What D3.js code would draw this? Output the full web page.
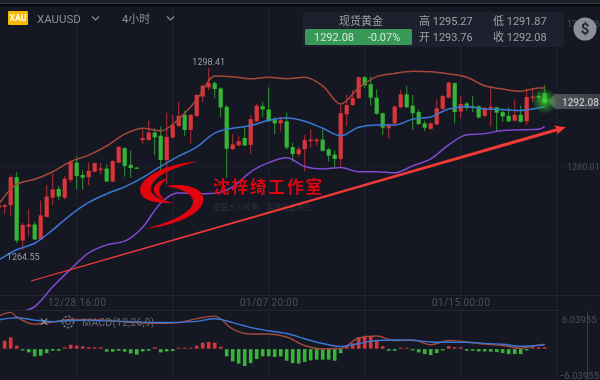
<!DOCTYPE html>
<html>
<head>
<meta charset="utf-8">
<script src="https://cdn.jsdelivr.net/npm/d3@7"></script>
<style>
  html, body { margin: 0; padding: 0; background: #151823; overflow: hidden; }
  svg { display: block; font-family: Roboto, "Noto Sans CJK SC", sans-serif; filter: blur(0.35px); }
</style>
</head>
<body>
<div id="chart"></div>
<script>
const width = 600;
const height = 380;

// candles, 4h bars (first two are cut by the left edge)
const opens = [1272.4,1272.6,1272.9,1278.1,1266.3,1268.9,1269.3,1266.5,1270.7,1274.3,1275.9,1274.3,1277.6,1280.8,1278.5,1278.1,1279.1,1279.4,1279.7,1277.3,1280.8,1283.5,1280.4,1279.9,1285.0,1285.0,1286.4,1285.8,1281.3,1285.5,1287.6,1289.7,1286.9,1289.5,1293.1,1294.8,1295.6,1294.6,1291.2,1283.3,1284.0,1285.4,1284.1,1288.5,1291.3,1290.7,1288.7,1288.1,1288.5,1283.7,1282.4,1283.3,1284.8,1284.8,1285.1,1283.3,1282.3,1281.5,1289.8,1291.5,1292.8,1296.7,1295.4,1292.9,1290.0,1287.2,1288.1,1291.1,1293.5,1291.4,1290.2,1288.1,1287.1,1287.9,1290.8,1292.9,1295.6,1290.3,1291.8,1291.3,1291.3,1289.5,1290.9,1291.1,1290.2,1289.5,1288.6,1289.7,1288.5,1292.8,1293.2,1293.76];
const highs = [1273.9,1273.1,1278.5,1279.0,1269.6,1272.2,1269.8,1273.7,1276.6,1278.8,1276.5,1278.3,1281.2,1282.0,1279.4,1280.8,1280.8,1280.7,1280.5,1281.2,1283.9,1283.7,1283.0,1279.9,1287.0,1288.6,1287.2,1287.5,1290.1,1289.7,1292.1,1290.5,1289.8,1293.5,1295.3,1298.41,1295.9,1294.8,1291.5,1286.1,1285.8,1287.6,1289.7,1291.7,1292.1,1294.8,1289.3,1289.3,1290.1,1284.5,1283.7,1286.0,1287.0,1285.3,1286.9,1283.6,1283.1,1291.5,1293.4,1294.3,1296.8,1296.9,1296.8,1294.4,1290.1,1288.1,1291.5,1294.4,1295.1,1293.4,1290.7,1288.6,1288.4,1292.6,1293.4,1295.9,1295.7,1293.2,1292.1,1293.2,1291.5,1291.2,1294.6,1291.2,1290.7,1291.1,1292.5,1291.4,1294.6,1294.7,1294.0,1295.27];
const lows = [1271.3,1271.3,1270.9,1265.8,1264.55,1267.3,1266.4,1266.4,1270.6,1272.9,1273.85,1274.0,1277.1,1275.8,1275.8,1276.6,1279.0,1278.7,1277.2,1277.2,1280.7,1278.2,1278.0,1279.7,1284.4,1284.9,1282.2,1279.4,1276.8,1285.3,1287.5,1285.8,1284.3,1289.3,1292.1,1294.3,1292.8,1289.3,1278.0,1283.2,1283.9,1283.9,1282.5,1288.4,1289.3,1288.4,1286.1,1286.6,1283.2,1281.0,1281.9,1279.2,1283.6,1283.9,1282.9,1281.0,1280.0,1280.0,1287.6,1291.4,1292.6,1294.6,1291.4,1289.7,1286.0,1285.3,1287.7,1290.9,1291.0,1286.9,1287.8,1286.7,1286.9,1287.8,1290.6,1292.8,1288.1,1289.05,1290.5,1290.2,1289.0,1289.3,1287.5,1286.6,1288.4,1288.3,1288.5,1288.3,1287.8,1292.1,1292.1,1291.87];
const closes = [1272.9,1272.9,1278.1,1266.3,1269.2,1269.3,1266.5,1271.0,1274.5,1275.8,1274.5,1277.8,1281.0,1278.3,1278.0,1279.3,1280.7,1279.7,1277.3,1281.1,1283.7,1280.2,1279.8,1279.7,1285.4,1286.4,1285.5,1281.3,1285.6,1287.8,1289.5,1286.9,1289.7,1293.4,1295.1,1295.6,1294.5,1291.1,1283.4,1284.2,1284.8,1284.0,1288.9,1291.4,1290.7,1288.5,1288.1,1288.7,1283.6,1282.4,1283.3,1285.0,1285.1,1285.1,1283.0,1282.1,1281.5,1290.0,1291.5,1292.8,1296.7,1295.2,1292.9,1289.9,1287.3,1287.8,1291.2,1293.5,1291.1,1290.0,1288.0,1287.3,1288.1,1290.9,1293.2,1295.7,1290.2,1291.7,1291.0,1291.1,1289.2,1291.0,1291.2,1290.1,1289.4,1288.5,1289.7,1288.4,1293.0,1293.1,1292.9,1292.08];

// bollinger bands, sampled every third candle plus the last one
const bandIdx = [0,3,6,9,12,15,18,21,24,27,30,33,36,39,42,45,48,51,54,57,60,63,66,69,72,75,78,81,84,87,90,91];
const bandUpper = [1273.1,1276.8,1277.7,1279.1,1281.0,1282.2,1283.9,1286.1,1287.2,1286.7,1288.9,1292.5,1296.9,1296.8,1296.4,1296.7,1296.4,1296.7,1295.1,1291.7,1294.7,1296.8,1297.4,1297.8,1297.7,1297.3,1296.7,1295.1,1294.5,1294.1,1294.7,1294.7];
const bandMid = [1262.7,1264.6,1265.8,1268.3,1271.1,1273.4,1275.0,1276.3,1278.0,1280.1,1282.0,1283.7,1286.3,1287.2,1287.7,1288.7,1289.1,1288.5,1287.2,1285.8,1287.4,1287.8,1287.8,1288.9,1289.3,1290.8,1291.2,1290.8,1290.7,1290.5,1291.0,1291.2];
const bandLower = [1251.2,1252.8,1254.0,1257.7,1261.0,1264.0,1265.5,1266.2,1268.8,1273.3,1275.2,1275.0,1275.1,1276.3,1279.1,1280.8,1281.7,1280.1,1279.6,1279.9,1279.1,1279.1,1278.9,1280.2,1281.5,1284.1,1286.0,1286.2,1286.8,1286.9,1287.0,1287.5];

// MACD pane
const macdHist = [null,1.63,2.33,0.61,-0.27,-0.67,-1.49,-1.35,-0.82,-0.33,-0.33,0.29,0.82,0.61,0.49,0.29,0.29,0.29,-0.53,-0.53,-0.33,-0.53,-0.88,-1.14,-0.47,-0.33,0.29,-0.67,-0.47,-0.41,0.2,0.2,0.2,0.61,1.22,1.37,1.22,0.41,-1.49,-2.51,-2.98,-3.47,-2.86,-2.04,-1.49,-1.49,-1.63,-1.49,-2.37,-2.86,-2.98,-2.65,-2.31,-2.16,-2.16,-2.16,-2.37,-0.82,0.55,1.1,2.33,2.65,2.45,1.63,0.49,-0.33,-0.33,0.2,0.2,-0.27,-0.67,-1.02,-1.22,-0.82,-0.27,0.55,0.29,0.29,-0.33,-0.33,-0.47,-0.47,-0.53,-0.61,-0.82,-1.02,-1.02,-1.02,-0.27,0.29,0.29,0.29];
const macdIdx = [0,2,3,6,9,12,15,18,21,24,27,30,33,36,39,42,45,48,51,54,57,60,63,66,69,72,75,78,81,84,87,90,91];
const macdSlow = [6.67,7.43,6.53,5.04,5.45,6.0,5.96,5.86,5.45,5.24,5.18,5.35,6.16,6.67,4.02,3.0,3.0,2.39,0.65,-0.06,0.04,2.18,2.59,1.67,1.78,0.82,1.71,1.37,0.96,0.65,0.08,0.76,0.9];
const macdFast = [5.86,6.27,6.33,5.86,5.55,5.76,5.8,5.69,5.59,5.45,5.35,5.39,5.59,6.12,5.35,4.33,3.67,3.1,2.04,1.06,0.45,1.06,1.67,1.78,1.71,1.37,1.31,1.31,1.1,0.92,0.49,0.69,0.76];

// axes
const gridIdx = [13,29,45,61,77,93];
const timeIdx = [13,45,77];
const timeLabels = ["12/28 16:00","01/07 20:00","01/15 00:00"];
const priceTicks = [1306.76,1280.01];
const macdTicks = [6.03955,-6.03955];

// annotation values
const highLabel = {idx: 35, price: 1298.41};
const lowLabel = {idx: 4, price: 1264.55};
const lastPrice = 1292.08;
const trendIdx = [5.4,94.5];
const trendPrice = [1258.8,1287.4];

const upColor = "#d8363b";
const downColor = "#35b436";

const svg = d3.select("#chart").append("svg")
  .attr("width", width)
  .attr("height", height)
  .attr("viewBox", [0, 0, width, height]);

const x = d3.scaleLinear().domain([0, 91]).range([-1.3, 544.7]);
const y = d3.scaleLinear().domain([1264.55, 1298.41]).range([250, 68]);
const yMacd = d3.scaleLinear().domain([-6.03955, 6.03955]).range([378.2, 319.2]);

svg.append("rect").attr("width", width).attr("height", height).attr("fill", "#151823");

// strip at the very top of the screenshot
svg.append("rect").attr("width", width).attr("height", 3).attr("fill", "#1c2029");
svg.append("rect").attr("y", 3).attr("width", width).attr("height", 1).attr("fill", "#343844");
svg.append("rect").attr("y", 4).attr("width", width).attr("height", 2.5).attr("fill", "#05060a");

const defs = svg.append("defs");
defs.append("clipPath").attr("id", "mainClip").append("rect").attr("width", width).attr("height", 310);
defs.append("clipPath").attr("id", "macdClip").append("rect").attr("y", 310).attr("width", width).attr("height", 70);
const glow = defs.append("radialGradient").attr("id", "glow");
glow.append("stop").attr("offset", "0%").attr("stop-color", "#46e03c").attr("stop-opacity", 0.95);
glow.append("stop").attr("offset", "35%").attr("stop-color", "#36c02e").attr("stop-opacity", 0.6);
glow.append("stop").attr("offset", "100%").attr("stop-color", "#36c02e").attr("stop-opacity", 0);
const tagFill = defs.append("linearGradient").attr("id", "tagFill");
tagFill.append("stop").attr("offset", "0%").attr("stop-color", "#54595c");
tagFill.append("stop").attr("offset", "100%").attr("stop-color", "#3a3d45");

// grid
const gridAxis = d3.axisBottom(x).tickValues(gridIdx).tickSize(373).tickFormat("");
const gridG = svg.append("g").attr("transform", "translate(0,7)").call(gridAxis);
gridG.select(".domain").remove();
gridG.selectAll("line").attr("stroke", "#1f2330");

svg.append("line").attr("x1", 0).attr("x2", 600).attr("y1", 167).attr("y2", 167).attr("stroke", "#1b1f2b");
svg.append("line").attr("x1", 0).attr("x2", 600).attr("y1", 295.5).attr("y2", 295.5).attr("stroke", "#22262f");
svg.append("line").attr("x1", 0).attr("x2", 561).attr("y1", 310.5).attr("y2", 310.5).attr("stroke", "#22262f");
svg.append("line").attr("x1", 587.5).attr("x2", 587.5).attr("y1", 311).attr("y2", 380).attr("stroke", "#3a3e48");

// time axis
const timeAxis = d3.axisBottom(x).tickValues(timeIdx).tickSize(0).tickFormat((d, i) => timeLabels[i]);
const timeG = svg.append("g").attr("transform", "translate(0,297)").call(timeAxis);
timeG.select(".domain").remove();
timeG.selectAll("text").attr("fill", "#4b4f5b").attr("font-size", 10).attr("dy", "0.55em")
  .attr("font-family", "Roboto").attr("letter-spacing", 0.4);

// price axis
const priceAxis = d3.axisRight(y).tickValues(priceTicks).tickSize(0).tickFormat(d3.format(".2f"));
const priceG = svg.append("g").attr("transform", "translate(566,0)").call(priceAxis);
priceG.select(".domain").remove();
priceG.selectAll("text").attr("fill", "#4b4f5b").attr("font-size", 9).attr("x", 1)
  .attr("font-family", "Roboto");

// candles
const candleData = d3.range(opens.length);
const candles = svg.append("g").attr("clip-path", "url(#mainClip)");
const candleColor = i => closes[i] >= opens[i] ? upColor : downColor;

candles.selectAll("line.wick").data(candleData).join("line")
  .attr("class", "wick")
  .attr("x1", i => x(i)).attr("x2", i => x(i))
  .attr("y1", i => y(highs[i])).attr("y2", i => y(lows[i]))
  .attr("stroke", candleColor).attr("stroke-width", 1).attr("stroke-opacity", 0.8);

candles.selectAll("rect").data(candleData).join("rect")
  .attr("x", i => x(i) - 2.1)
  .attr("width", 4.2)
  .attr("y", i => y(Math.max(opens[i], closes[i])))
  .attr("height", i => Math.max(1.4, Math.abs(y(opens[i]) - y(closes[i]))))
  .attr("fill", candleColor);

// bands
const bandLine = d3.line()
  .x((d, i) => x(bandIdx[i]))
  .y(d => y(d))
  .curve(d3.curveMonotoneX);

const bands = svg.append("g").attr("clip-path", "url(#mainClip)").attr("fill", "none").attr("stroke-width", 1.5);
bands.append("path").attr("d", bandLine(bandUpper)).attr("stroke", "#a5483a");
bands.append("path").attr("d", bandLine(bandMid)).attr("stroke", "#3a78d8");
bands.append("path").attr("d", bandLine(bandLower)).attr("stroke", "#8249d2");

// high / low labels
svg.append("text").attr("x", x(highLabel.idx)).attr("y", y(highLabel.price) - 3)
  .attr("text-anchor", "middle").attr("fill", "#9a9ca6").attr("font-size", 9)
  .text(d3.format(".2f")(highLabel.price));
svg.append("text").attr("x", x(lowLabel.idx) + 0.5).attr("y", y(lowLabel.price) + 10)
  .attr("text-anchor", "middle").attr("fill", "#9a9ca6").attr("font-size", 9)
  .text(d3.format(".2f")(lowLabel.price));

// macd histogram
const macdG = svg.append("g").attr("clip-path", "url(#macdClip)");
macdG.selectAll("rect").data(d3.range(macdHist.length).filter(i => macdHist[i] !== null)).join("rect")
  .attr("x", i => x(i) - 1.8)
  .attr("width", 3.6)
  .attr("y", i => macdHist[i] > 0 ? yMacd(macdHist[i]) : yMacd(0) + 0.4)
  .attr("height", i => Math.abs(yMacd(macdHist[i]) - yMacd(0)))
  .attr("fill", i => macdHist[i] > 0 ? upColor : downColor);

const macdLine = d3.line()
  .x((d, i) => x(macdIdx[i]))
  .y(d => yMacd(d))
  .curve(d3.curveMonotoneX);

macdG.append("path").attr("d", macdLine(macdSlow)).attr("fill", "none").attr("stroke", "#a5483a").attr("stroke-width", 1.4);
macdG.append("path").attr("d", macdLine(macdFast)).attr("fill", "none").attr("stroke", "#3a78d8").attr("stroke-width", 1.4);

// macd axis
const macdAxis = d3.axisRight(yMacd).tickValues(macdTicks).tickSize(0).tickFormat(d3.format(".5f"));
const macdAxisG = svg.append("g").attr("transform", "translate(559,0)").call(macdAxis);
macdAxisG.select(".domain").remove();
macdAxisG.selectAll("text").attr("fill", "#4b4f5b").attr("font-size", 9.5).attr("x", d => d < 0 ? 0 : 3)
  .attr("y", d => d < 0 ? -2.5 : 0)
  .attr("font-family", "Roboto");

// macd legend
svg.append("text").attr("x", 44).attr("y", 322).attr("text-anchor", "middle").attr("dy", "0.35em")
  .attr("fill", "#8e9199").attr("font-size", 12).text("✕");
svg.append("circle").attr("cx", 68).attr("cy", 322).attr("r", 5.6).attr("fill", "none")
  .attr("stroke", "#71747d").attr("stroke-width", 1.6).attr("stroke-dasharray", "2.2 1.5");
svg.append("circle").attr("cx", 68).attr("cy", 322).attr("r", 2.4).attr("fill", "none")
  .attr("stroke", "#71747d").attr("stroke-width", 0.9);
svg.append("text").attr("x", 82).attr("y", 322).attr("dy", "0.35em")
  .attr("fill", "#666975").attr("font-size", 10.5).attr("letter-spacing", 0.15).text("MACD(12,26,9)");

// watermark logo
const logo = svg.append("g").attr("fill", "#e1040f");
logo.append("path").attr("d", "M198 161.5 C174 163 146 172 140.5 187 C137.5 198 150 204 174 203 C160 200 149 195 151 187 C154 176 174 167 198 161.5 Z");
logo.append("path").attr("d", "M168 178 C157 181 153 186 154 191 C155 195 159 198 165 200 C160 195 158 191 160 187 C161 184 164 181 168 178 Z");
logo.append("path").attr("d", "M165 186 C190 182 206 190 203 202 C199 217 170 226 145 229 C168 223 190 214 193 203 C195 195 182 188 165 186 Z");
svg.append("text").attr("x", 213).attr("y", 192.5)
  .attr("font-family", "Noto Sans CJK SC").attr("font-weight", 700).attr("font-size", 16.5).attr("letter-spacing", 2)
  .attr("fill", "#e1040f").text("沈梓绮工作室");
svg.append("text").attr("x", 213).attr("y", 210)
  .attr("font-family", "Noto Sans CJK SC").attr("font-size", 7.6)
  .attr("fill", "#2f323a").text("把握大小周期，实时社会舆色");

// trend arrow
const p0 = [x(trendIdx[0]), y(trendPrice[0])];
const p1 = [x(trendIdx[1]), y(trendPrice[1])];
const len = Math.hypot(p1[0] - p0[0], p1[1] - p0[1]);
const ux = (p1[0] - p0[0]) / len, uy = (p1[1] - p0[1]) / len;
const side = (p, d, w) => [p[0] + ux * d - uy * w, p[1] + uy * d + ux * w];
svg.append("path").attr("fill", "#f23a36").attr("d", d3.line()([
  side(p0, 0, -0.5),
  side(p1, -9, -1.6),
  side(p1, -11, -5),
  p1,
  side(p1, -11, 5),
  side(p1, -9, 1.6),
  side(p0, 0, 0.5)
]) + "Z");

// last price tag
const yLast = y(lastPrice);
svg.append("path").attr("fill", "url(#tagFill)")
  .attr("d", `M548 ${yLast - 1} L555 ${yLast - 8} H600 V${yLast + 7} H555 Z`);
svg.append("text").attr("x", 562).attr("y", yLast).attr("dy", "0.35em")
  .attr("fill", "#c2c4c8").attr("font-size", 10).attr("font-weight", 500).text(d3.format(".2f")(lastPrice));
svg.append("circle").attr("cx", x(91)).attr("cy", yLast - 1).attr("r", 13).attr("fill", "url(#glow)");

// header
svg.append("rect").attr("x", 8).attr("y", 11).attr("width", 20).attr("height", 14).attr("rx", 1).attr("fill", "#f6b904");
svg.append("text").attr("x", 18).attr("y", 18).attr("dy", "0.36em").attr("text-anchor", "middle")
  .attr("fill", "#fff").attr("font-size", 8.6).attr("font-weight", 700).text("XAU");
svg.append("text").attr("x", 37).attr("y", 19).attr("dy", "0.35em")
  .attr("fill", "#8b8e97").attr("font-size", 11.5).text("XAUUSD");
svg.append("text").attr("x", 122).attr("y", 19).attr("dy", "0.35em")
  .attr("fill", "#8b8e97").attr("font-size", 11).text("4小时");
for (const cx of [95.5, 170.5]) {
  svg.append("path").attr("fill", "none").attr("stroke", "#8b8e97").attr("stroke-width", 1.2)
    .attr("d", `M${cx - 3.5} 16.5 L${cx} 20 L${cx + 3.5} 16.5`);
}

// quote panel
svg.append("rect").attr("x", 303).attr("y", 12).attr("width", 261).attr("height", 35).attr("rx", 2).attr("fill", "#1d212e");
svg.append("rect").attr("x", 305).attr("y", 29).attr("width", 107).attr("height", 16).attr("rx", 1.5).attr("fill", "#379858");
svg.append("text").attr("x", 361).attr("y", 21).attr("dy", "0.35em").attr("text-anchor", "middle")
  .attr("fill", "#9ea0a7").attr("font-size", 11).text("现货黄金");
const quoteTexts = [
  ["1292.08", 334, 37.5, "#d7e8dc", "middle"],
  ["-0.07%", 384, 37.5, "#d7e8dc", "middle"],
  ["高 1295.27", 419, 21.5, "#9ea0a7", "start"],
  ["低 1291.87", 493, 21.5, "#9ea0a7", "start"],
  ["开 1293.76", 419, 37.5, "#9ea0a7", "start"],
  ["收 1292.08", 493, 37.5, "#9ea0a7", "start"]
];
svg.append("g").selectAll("text").data(quoteTexts).join("text")
  .attr("x", d => d[1]).attr("y", d => d[2]).attr("dy", "0.35em")
  .attr("text-anchor", d => d[4]).attr("fill", d => d[3]).attr("font-size", 11)
  .text(d => d[0]);

// dollar button
svg.append("circle").attr("cx", 585).attr("cy", 29).attr("r", 11.5).attr("fill", "#8c8f95");
svg.append("text").attr("x", 585).attr("y", 29).attr("dy", "0.36em").attr("text-anchor", "middle")
  .attr("fill", "#23262d").attr("font-size", 15).attr("font-weight", 700).text("$");
</script>
</body>
</html>
